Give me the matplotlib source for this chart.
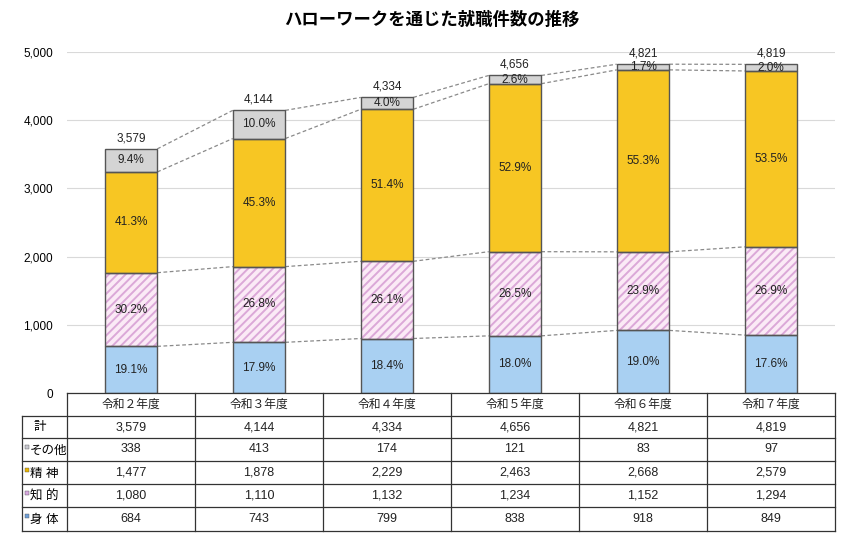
import matplotlib
matplotlib.use("Agg")
import matplotlib.pyplot as plt
from matplotlib.lines import Line2D
from matplotlib.patches import Rectangle

plt.rcParams['font.family'] = ['Liberation Sans', 'Noto Sans CJK JP', 'DejaVu Sans']
plt.rcParams['hatch.linewidth'] = 1.4

years = ['令和２年度', '令和３年度', '令和４年度', '令和５年度', '令和６年度', '令和７年度']
shintai = [684, 743, 799, 838, 918, 849]
chiteki = [1080, 1110, 1132, 1234, 1152, 1294]
seishin = [1477, 1878, 2229, 2463, 2668, 2579]
sonota = [338, 413, 174, 121, 83, 97]
totals = [3579, 4144, 4334, 4656, 4821, 4819]
yticks = [0, 1000, 2000, 3000, 4000, 5000]

W, H = 858, 551
fig = plt.figure(figsize=(W / 100, H / 100), dpi=100)
L, R, T, B = 67, 835, 52, 393
ax = fig.add_axes([L / W, 1 - B / H, (R - L) / W, (B - T) / H])

n = len(years)
x = list(range(n))
bw = 0.41
series = [
    (shintai, '#a9d0f2', None),
    (chiteki, '#fbeaf6', '////'),
    (seishin, '#f7c623', None),
    (sonota, '#d4d4d4', None),
]
bottoms = [0] * n
tops_list = []
for vals, fc, hatch in series:
    ax.bar(x, vals, bw, bottom=bottoms, color=fc, hatch=hatch,
           edgecolor='#dba8d8' if hatch else fc, linewidth=0.0, zorder=3)
    ax.bar(x, vals, bw, bottom=bottoms, fill=False, edgecolor='#555555',
           linewidth=1.0, zorder=4)
    for i in range(n):
        pct = vals[i] / totals[i] * 100
        ax.text(x[i], bottoms[i] + vals[i] / 2, f'{pct:.1f}%', ha='center', va='center',
                fontsize=8.5, color='#222222', zorder=6)
    bottoms = [b + v for b, v in zip(bottoms, vals)]
    tops_list.append(list(bottoms))

for tops in tops_list:
    for i in range(n - 1):
        ax.plot([x[i] + bw / 2, x[i + 1] - bw / 2], [tops[i], tops[i + 1]],
                ls=(0, (3, 2)), color='#8a8a8a', lw=0.9, zorder=2)

for i in range(n):
    ax.text(x[i], totals[i] + 70, f'{totals[i]:,}', ha='center', va='bottom',
            fontsize=8.5, color='#222222')

ax.set_xlim(-0.5, n - 0.5)
ax.set_ylim(0, 5000)
ax.set_yticks(yticks)
ax.set_yticklabels([f'{v:,}' for v in yticks], fontsize=8.5)
ax.tick_params(axis='y', length=0, pad=10)
ax.set_xticks([])
ax.grid(axis='y', color='#d9d9d9', lw=0.8, zorder=0)
for s in ['top', 'right', 'left', 'bottom']:
    ax.spines[s].set_visible(False)

fig.text(432 / W, 1 - 20 / H, 'ハローワークを通じた就職件数の推移', ha='center', va='center',
         fontsize=12.5, fontweight='bold', family=['Noto Sans CJK JP'])

def fx(px):
    return px / W

def fy(py):
    return 1 - py / H

rows_y = [393, 416, 438, 461, 484, 507, 531]
lab_x = 22
lc = '#333333'
fig.add_artist(Line2D([fx(L), fx(R)], [fy(rows_y[0])] * 2, color=lc, lw=0.9))
for yy in rows_y[1:]:
    fig.add_artist(Line2D([fx(lab_x), fx(R)], [fy(yy)] * 2, color=lc, lw=0.9))
colw = (R - L) / n
for j in range(n + 1):
    xx = L + j * colw
    fig.add_artist(Line2D([fx(xx)] * 2, [fy(rows_y[0]), fy(rows_y[-1])], color=lc, lw=0.9))
fig.add_artist(Line2D([fx(lab_x)] * 2, [fy(rows_y[1]), fy(rows_y[-1])], color=lc, lw=0.9))

row_labels = ['計', 'その他', '精 神', '知 的', '身 体']
row_data = [totals, sonota, seishin, chiteki, shintai]
row_colors = [None, '#c8c8d0', '#e8b400', '#d8a8e0', '#6f9fd8']
for j in range(n):
    cx = L + (j + 0.5) * colw
    fig.text(fx(cx), fy((rows_y[0] + rows_y[1]) / 2), years[j], ha='center', va='center',
             fontsize=8.5, color='#222222')
for r in range(5):
    cy = (rows_y[r + 1] + rows_y[r + 2]) / 2
    if row_colors[r] is None:
        fig.text(fx(40), fy(cy), row_labels[r], ha='center', va='center', fontsize=9)
    else:
        fig.add_artist(Rectangle((fx(25), fy(cy - 1)), 4 / W, 4 / H, facecolor=row_colors[r],
                                 edgecolor='#555555', lw=0.3))
        fig.text(fx(30), fy(cy + 1), row_labels[r], ha='left', va='center', fontsize=9)
    for j in range(n):
        cx = L + (j + 0.5) * colw
        fig.text(fx(cx), fy(cy), f'{row_data[r][j]:,}', ha='center', va='center',
                 fontsize=9, color='#222222')

fig.savefig('out.png', dpi=100)
